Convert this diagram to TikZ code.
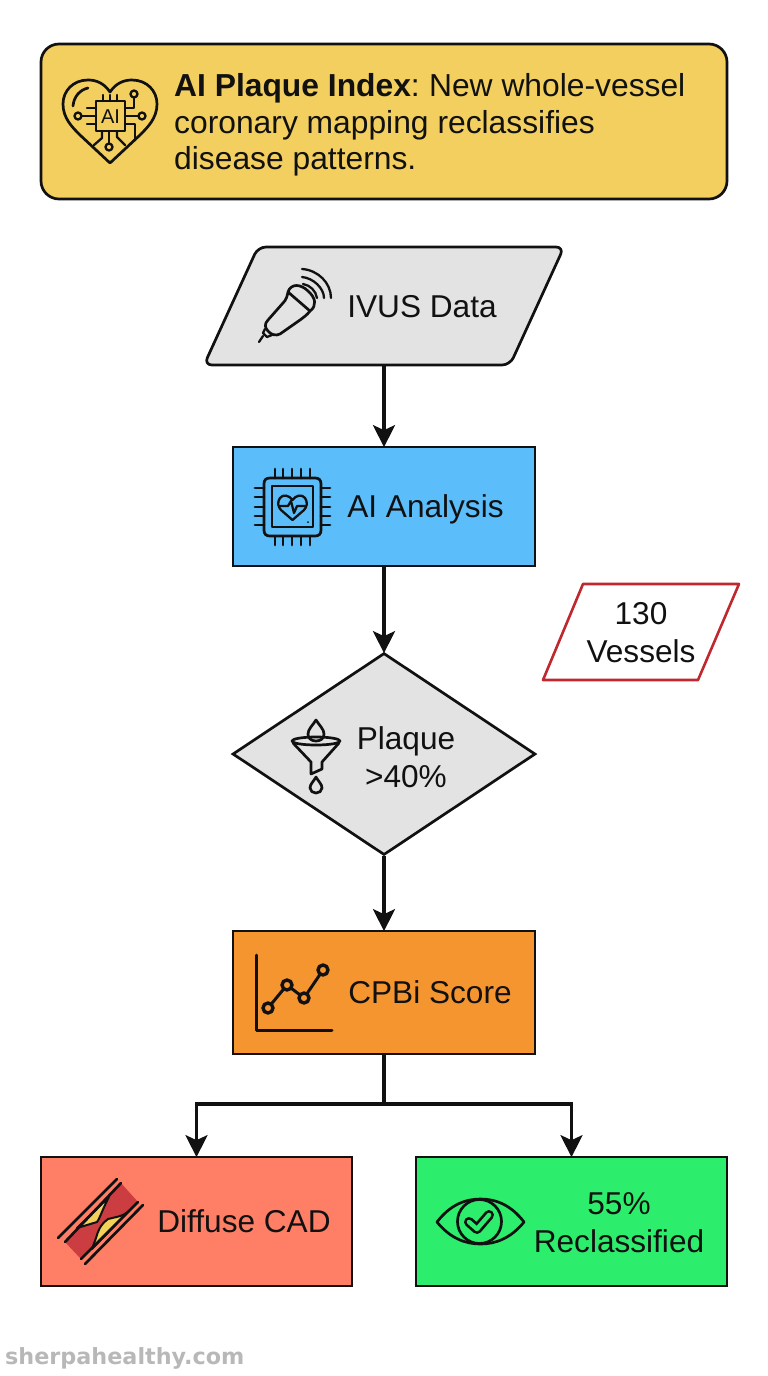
\documentclass[tikz,border=0pt]{standalone}
\usepackage{fontspec}
\setmainfont{Liberation Sans}
\newfontfamily\markfont{DejaVu Sans}
\usetikzlibrary{arrows.meta, shapes.geometric}

\definecolor{bannerfill}{HTML}{F2CF5E}
\definecolor{greyfill}{HTML}{E3E3E3}
\definecolor{bluefill}{HTML}{5BBDFA}
\definecolor{orangefill}{HTML}{F5952F}
\definecolor{redfill}{HTML}{FF7F66}
\definecolor{greenfill}{HTML}{2CEE6C}
\definecolor{vesselred}{HTML}{CC3D42}
\definecolor{plaqueyellow}{HTML}{F2D25A}
\definecolor{notered}{HTML}{C0282F}
\definecolor{inkblack}{HTML}{111111}

\tikzset{
    stagebox/.style={draw=inkblack, line width=2.7pt, minimum width=#1, inner sep=0pt},
    slantline/.style={draw=inkblack, line width=2.7pt, line join=round},
    caption/.style={font=\fontsize{31.6}{38}\selectfont, align=center, text=inkblack, inner sep=0pt},
    link/.style={draw=inkblack, line width=3.2pt},
    arrowlink/.style={link, shorten >=-1.5pt, -{Stealth[length=22pt, width=22pt, inset=5pt]}},
    icon/.style={draw=inkblack, line width=2.7pt, line cap=round, line join=round},
    thinicon/.style={draw=inkblack, line width=2.3pt, line cap=round, line join=round}
}

\begin{document}
\begin{tikzpicture}[x=1pt, y=-1pt]
    \useasboundingbox (0,0) rectangle (768,1376);

    \node[stagebox=686pt, fill=bannerfill, minimum height=155pt, rounded corners=18pt] (banner) at (384,121.5) {};
    \node[anchor=west, align=left, inner sep=0pt, text=inkblack, font=\fontsize{31.8}{36.5}\selectfont] (bannertext) at (174,125)
        {\textbf{AI Plaque Index}:\kern-2.5pt{} New whole-vessel\\coronary mapping reclassifies\\disease patterns.};

    \draw[slantline, fill=greyfill, rounded corners=8pt] (258,247) -- (564,247) -- (510,365) -- (204,365) -- cycle;
    \coordinate (ivus) at (384,365);
    \node[caption] (ivustext) at (422,307) {IVUS Data};

    \node[stagebox=302pt, fill=bluefill, minimum height=119pt] (analysis) at (384,506.5) {};
    \node[caption] (analysistext) at (425.5,509.5) {AI Analysis};

    \draw[slantline, draw=notered, line width=2.6pt] (583,584) -- (739,584) -- (698,680) -- (543,680) -- cycle;
    \node[caption] (vesselstext) at (641,633) {130\\Vessels};

    \node[diamond, draw=inkblack, line width=2.7pt, fill=greyfill, minimum width=303pt, minimum height=202pt, inner sep=0pt] (plaque) at (384,754) {};
    \node[caption] (plaquetext) at (406,757) {Plaque\\>40\%};

    \node[stagebox=302pt, fill=orangefill, minimum height=123pt] (score) at (384,992.5) {};
    \node[caption] (scoretext) at (430,992) {CPBi Score};

    \node[stagebox=311pt, fill=redfill, minimum height=129pt] (diffuse) at (196.5,1221.5) {};
    \node[caption] (diffusetext) at (244,1221) {Diffuse CAD};

    \node[stagebox=311pt, fill=greenfill, minimum height=129pt] (reclass) at (571.5,1221.5) {};
    \node[caption] (reclasstext) at (619,1223) {55\%\\Reclassified};

    \node[anchor=west, inner sep=0pt, text=black!28, font=\markfont\bfseries\fontsize{22.3}{26}\selectfont] (site) at (5,1358.5) {sherpahealthy.com};

    \coordinate (split) at (384,1104);
    \draw[arrowlink] (ivus) -- (analysis.north);
    \draw[arrowlink] (analysis.south) -- (plaque.north);
    \draw[arrowlink] (plaque.south) -- (score.north);
    \draw[link] (score.south) -- (split);
    \draw[arrowlink] (split) -| (diffuse.north);
    \draw[arrowlink] (split) -| (reclass.north);

    \draw[icon] (110,92) .. controls (104,83) and (96,80) .. (88,80) .. controls (73,80) and (63,91) .. (63,104) .. controls (63,118) and (72,127) .. (80,135) -- (110,163) -- (140,135) .. controls (148,127) and (157,118) .. (157,104) .. controls (157,91) and (147,80) .. (132,80) .. controls (124,80) and (116,83) .. (110,92);
    \draw[icon] (73,106) .. controls (74,96) and (80,90) .. (88,88);
    \draw[icon] (96,101) rectangle (125,131);
    \node[inner sep=0pt, text=inkblack, font=\fontsize{20}{20}\selectfont] (chiptext) at (110.5,116.5) {AI};
    \foreach \x in {103,110,117} \draw[thinicon] (\x,95) -- (\x,101);
    \foreach \y in {108,124} \draw[thinicon] (87,\y) -- (96,\y);
    \draw[thinicon] (81.5,116) -- (96,116);
    \draw[thinicon] (78,116) circle [radius=3.5];
    \draw[thinicon] (125,116) -- (138.5,116);
    \draw[thinicon] (142,116) circle [radius=3.5];
    \draw[thinicon] (125,108) -- (134,108) -- (134,98);
    \draw[thinicon] (134,94) circle [radius=3.5];
    \draw[thinicon] (125,124) -- (135,124) -- (135,140);
    \draw[thinicon] (109,131) -- (109,143);
    \draw[thinicon] (109,147) circle [radius=3.5];
    \draw[thinicon] (102,131) -- (102,138) -- (94,145);
    \draw[thinicon] (117,131) -- (117,137) -- (125,145);

    \draw[icon] (288,292) .. controls (291,283) and (301,284) .. (308,291) .. controls (316,298) and (317,306) .. (310,311) -- cycle;
    \draw[icon] (288,292) .. controls (287,297) and (286,300) .. (283,303) -- (268,320) .. controls (264,324) and (265,328) .. (268,331) .. controls (271,335) and (276,336) .. (280,334) -- (300,320) .. controls (304,317) and (307,315) .. (310,311);
    \draw[thinicon] (265,329) -- (263,333) -- (267,337) -- (272,335);
    \draw[thinicon] (263,336) -- (259,342);
    \draw[thinicon] (302,269) .. controls (318,270) and (331,283) .. (331,298);
    \draw[thinicon] (302,277) .. controls (313,278) and (324,288) .. (324,298);
    \draw[thinicon] (303,284) .. controls (310,285) and (316,291) .. (317,298);

    \draw[icon] (264,484) .. controls (264,480) and (266,478) .. (270,478) -- (315,478) .. controls (319,478) and (321,480) .. (321,484) -- (321,530) .. controls (321,534) and (319,536) .. (315,536) -- (270,536) .. controls (266,536) and (264,534) .. (264,530) -- cycle;
    \draw[icon] (272,486) rectangle (313,527);
    \foreach \x in {275,283,292,301,310} \draw[icon] (\x,469) -- (\x,478) (\x,536) -- (\x,545);
    \foreach \y in {488,497,507,516,525} \draw[icon] (255,\y) -- (264,\y) (321,\y) -- (330,\y);
    \draw[thinicon] (292.5,500) .. controls (289,495) and (283,494) .. (280,498) .. controls (277,502) and (278,507) .. (281,510) -- (292.5,520) -- (304,510) .. controls (307,507) and (308,502) .. (305,498) .. controls (302,494) and (296,495) .. (292.5,500);
    \draw[thinicon] (280,506) -- (288,506) -- (291,501) -- (294,513) -- (297,506) -- (305,506);
    \fill[inkblack] (308,522) circle [radius=1];

    \draw[icon] (316,741) ellipse [x radius=24, y radius=4];
    \draw[icon] (293,743) -- (311,762) -- (311,774) -- (322,769) -- (322,762) -- (339,743);
    \draw[icon] (316,720) .. controls (313,725) and (308,729) .. (308,734) .. controls (308,738) and (311,741) .. (316,741) .. controls (321,741) and (324,738) .. (324,734) .. controls (324,729) and (319,725) .. (316,720);
    \draw[icon] (316,777) .. controls (314,781) and (310,784) .. (310,788) .. controls (310,791) and (313,793) .. (316,793) .. controls (319,793) and (322,791) .. (322,788) .. controls (322,784) and (318,781) .. (316,777);

    \draw[icon, line width=3pt] (256,955) -- (256,1030) -- (332,1030);
    \draw[icon, line width=3pt] (268,1008) -- (287,985) -- (304,998) -- (323,970);
    \foreach \x/\y in {268/1008, 287/985, 304/998, 323/970}
        \draw[icon, line width=3.4pt, fill=orangefill] (\x,\y) circle [radius=5];

    \fill[vesselred] (65,1242) -- (121,1183) -- (138,1202) -- (81,1259) -- cycle;
    \draw[icon, fill=plaqueyellow, line width=2pt] (77,1228) -- (97,1222) .. controls (100,1218) and (103,1208) .. (109,1197) -- cycle;
    \draw[icon, fill=plaqueyellow, line width=2pt] (92,1249) -- (96,1238) .. controls (98,1231) and (100,1225) .. (108,1219) .. controls (115,1217) and (122,1217) .. (129,1211) -- cycle;
    \draw[icon] (58,1238) -- (117,1179);
    \draw[icon] (65,1242) -- (121,1183);
    \draw[icon] (81,1259) -- (138,1202);
    \draw[icon] (85,1264) -- (143,1205);

    \draw[icon] (437,1222) .. controls (450,1205) and (465,1199) .. (480.5,1199) .. controls (496,1199) and (511,1205) .. (524,1222) .. controls (511,1238) and (496,1244) .. (480.5,1244) .. controls (465,1244) and (450,1238) .. (437,1222) -- cycle;
    \draw[icon] (479.5,1221.5) circle [radius=22];
    \draw[draw=inkblack, line width=10pt, line cap=round, line join=round] (469,1222) -- (477,1229) -- (489,1215);
    \draw[draw=greenfill, line width=4.5pt, line cap=round, line join=round] (469,1222) -- (477,1229) -- (489,1215);
\end{tikzpicture}
\end{document}
